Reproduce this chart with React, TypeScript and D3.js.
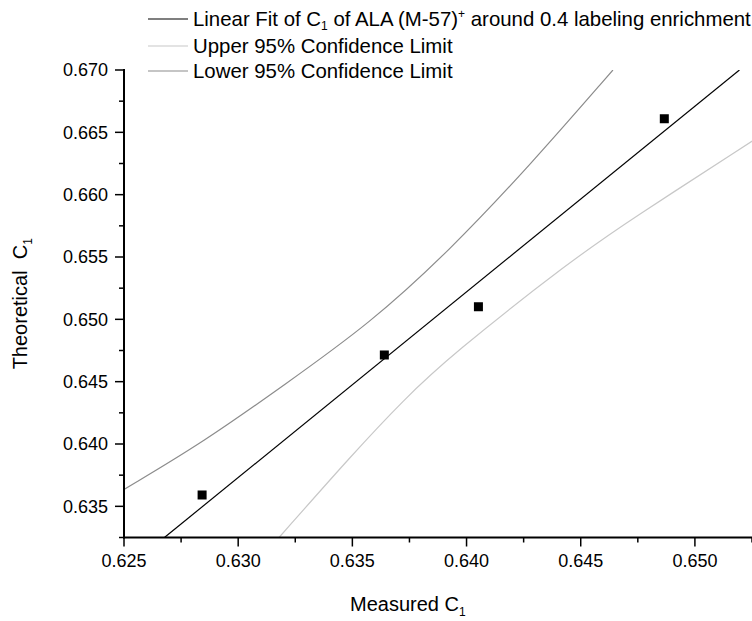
import React from 'react';
import * as d3 from 'd3';

// Measured data points
const pointX = [0.62842, 0.6364, 0.64052, 0.64866];
const pointY = [0.63591, 0.64714, 0.65101, 0.66609];

// Linear fit line
const fitX = [0.62677, 0.65195];
const fitY = [0.6325, 0.67];

// Curve drawn in the "Lower 95% Confidence Limit" colour (mid gray)
const lowerLimitX = [0.625, 0.6285, 0.63201, 0.63578, 0.63928, 0.64279, 0.64641];
const lowerLimitY = [0.63636, 0.64018, 0.64473, 0.64968, 0.65556, 0.66238, 0.67];

// Curve drawn in the "Upper 95% Confidence Limit" colour (light gray)
const upperLimitX = [0.63179, 0.63504, 0.63724, 0.63928, 0.64461, 0.64717, 0.65251];
const upperLimitY = [0.6325, 0.63925, 0.64353, 0.64706, 0.65476, 0.65797, 0.6643];

const xTicks = [0.625, 0.63, 0.635, 0.64, 0.645, 0.65];
const xMinorTicks = [0.6275, 0.6325, 0.6375, 0.6425, 0.6475, 0.6525];
const yTicks = [0.635, 0.64, 0.645, 0.65, 0.655, 0.66, 0.665, 0.67];
const yMinorTicks = [0.6325, 0.6375, 0.6425, 0.6475, 0.6525, 0.6575, 0.6625, 0.6675];

const legendLabels = ['Upper 95% Confidence Limit', 'Lower 95% Confidence Limit'];

const W = 752;
const H = 621;
const L = 124;
const R = 752;
const T = 70;
const B = 537.5;

const FONT = 'Liberation Sans, Arial, Helvetica, sans-serif';
const MID_GRAY = '#8c8c8c';
const LIGHT_GRAY = '#c8c8c8';

export default function App() {
  const x = d3.scaleLinear().domain([0.625, 0.6525]).range([L, R]);
  const y = d3.scaleLinear().domain([0.6325, 0.67]).range([B, T]);
  const line = d3
    .line<[number, number]>()
    .x((d) => x(d[0]))
    .y((d) => y(d[1]))
    .curve(d3.curveBasis);
  const straight = d3
    .line<[number, number]>()
    .x((d) => x(d[0]))
    .y((d) => y(d[1]));
  const zip = (a: number[], b: number[]) => a.map((v, i) => [v, b[i]] as [number, number]);

  const fmt = d3.format('.3f');

  return (
    <svg
      width={W}
      height={H}
      style={{ position: 'absolute', left: 0, top: 0, background: '#fff' }}
      fontFamily={FONT}
    >
      <defs>
        <clipPath id="plot">
          <rect x={L} y={T} width={R - L} height={B - T} />
        </clipPath>
      </defs>

      <g clipPath="url(#plot)">
        <path d={line(zip(lowerLimitX, lowerLimitY)) || ''} fill="none" stroke={MID_GRAY} strokeWidth={1.2} />
        <path d={line(zip(upperLimitX, upperLimitY)) || ''} fill="none" stroke={LIGHT_GRAY} strokeWidth={1.2} />
        <path d={straight(zip(fitX, fitY)) || ''} fill="none" stroke="#000" strokeWidth={1.2} />
      </g>

      {pointX.map((px, i) => (
        <rect key={i} x={x(px) - 4.5} y={y(pointY[i]) - 4.5} width={9} height={9} fill="#000" />
      ))}

      {/* axes */}
      <line x1={L} x2={L} y1={T - 1} y2={B + 1} stroke="#000" strokeWidth={2} />
      <line x1={L - 1} x2={R} y1={B} y2={B} stroke="#000" strokeWidth={2} />

      {yTicks.map((t) => (
        <g key={'y' + t}>
          <line x1={L - 9} x2={L} y1={y(t)} y2={y(t)} stroke="#000" strokeWidth={1.5} />
          <text x={108} y={y(t) + 6.3} fontSize={18} textAnchor="end" fill="#000">
            {fmt(t)}
          </text>
        </g>
      ))}
      {yMinorTicks.map((t) => (
        <line key={'ym' + t} x1={L - 5} x2={L} y1={y(t)} y2={y(t)} stroke="#000" strokeWidth={1.5} />
      ))}
      {xTicks.map((t) => (
        <g key={'x' + t}>
          <line x1={x(t)} x2={x(t)} y1={B} y2={B + 9} stroke="#000" strokeWidth={1.5} />
          <text x={x(t)} y={567} fontSize={18} textAnchor="middle" fill="#000">
            {fmt(t)}
          </text>
        </g>
      ))}
      {xMinorTicks.map((t) => (
        <line key={'xm' + t} x1={x(t)} x2={x(t)} y1={B} y2={B + 5} stroke="#000" strokeWidth={1.5} />
      ))}

      {/* axis titles */}
      <text x={350} y={611} fontSize={20} textAnchor="start" fill="#000">
        Measured C<tspan fontSize={12} dy={5}>1</tspan>
      </text>
      <text
        transform={`translate(27, ${(T + B) / 2}) rotate(-90)`}
        fontSize={20}
        textAnchor="middle"
        fill="#000"
        style={{ whiteSpace: 'pre' }}
      >
        {'Theoretical  C'}
        <tspan fontSize={12} dy={5}>1</tspan>
      </text>

      {/* legend */}
      <g>
        <line x1={148} x2={188} y1={19} y2={19} stroke="#000" strokeWidth={1.2} />
        <text x={193} y={26} fontSize={20.4} fill="#000">
          Linear Fit of C<tspan fontSize={12} dy={4}>1</tspan>
          <tspan dy={-4}> of ALA (M-57)</tspan>
          <tspan fontSize={12} dy={-8}>+</tspan>
          <tspan dy={8}> around 0.4 labeling enrichment</tspan>
        </text>
        <line x1={148} x2={188} y1={46} y2={46} stroke={LIGHT_GRAY} strokeWidth={1.2} />
        <text x={193} y={53} fontSize={20.4} fill="#000">
          {legendLabels[0]}
        </text>
        <line x1={148} x2={188} y1={71} y2={71} stroke={MID_GRAY} strokeWidth={1.2} />
        <text x={193} y={78} fontSize={20.4} fill="#000">
          {legendLabels[1]}
        </text>
      </g>
    </svg>
  );
}
